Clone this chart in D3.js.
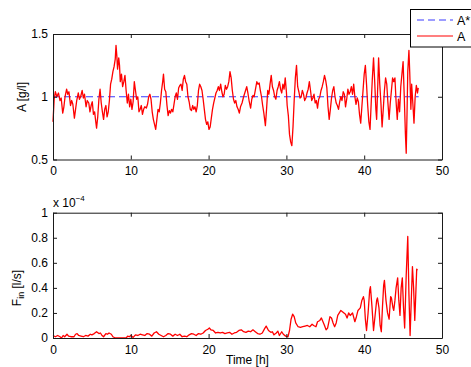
<!DOCTYPE html>
<html>
<head>
<meta charset="utf-8">
<script src="https://cdn.jsdelivr.net/npm/d3@7"></script>
<style>
  body { margin: 0; background: #fff; }
  svg { display: block; font-family: 'Liberation Sans', Arial, Helvetica, sans-serif; }
  .axis path, .axis line { stroke: #1a1a1a; }
  .axis text { fill: #000; font-size: 12px; }
</style>
</head>
<body>
<svg width="471" height="367"></svg>
<script>
// time axis ticks (hours)
const xTicks = [0, 10, 20, 30, 40, 50];
const aTicks = [0.5, 1, 1.5];
const fTicks = [0, 0.2, 0.4, 0.6, 0.8, 1];

// setpoint A* (g/l)
const setTime = [0, 47];
const setValue = [1, 1];

// measured concentration A (g/l)
const aTime = [
  0, 0.15, 0.3, 0.5, 0.7, 0.9, 1.05, 1.25, 1.4, 1.55, 1.75, 1.9, 2.05, 2.25, 2.4, 2.55, 2.75, 2.9,
  3.05, 3.25, 3.4, 3.55, 3.75, 3.9, 4.05, 4.25, 4.4, 4.6, 4.75, 4.9, 5.05, 5.2, 5.35, 5.5, 5.6, 5.75,
  5.9, 6.05, 6.2, 6.35, 6.5, 6.65, 6.8, 6.95, 7.1, 7.25, 7.4, 7.55, 7.7, 7.85, 8.0, 8.1, 8.2, 8.3,
  8.45, 8.55, 8.65, 8.8, 8.95, 9.1, 9.25, 9.4, 9.55, 9.7, 9.85, 10.0, 10.15, 10.3, 10.45, 10.6, 10.75,
  10.9, 11.05, 11.2, 11.35, 11.5, 11.65, 11.8, 12.0, 12.15, 12.3, 12.45, 12.6, 12.75, 12.9, 13.05,
  13.2, 13.35, 13.5, 13.65, 13.8, 13.95, 14.1, 14.2, 14.35, 14.5, 14.65, 14.8, 14.95, 15.1, 15.25,
  15.4, 15.55, 15.7, 15.85, 16.0, 16.15, 16.3, 16.45, 16.6, 16.75, 16.9, 17.05, 17.2, 17.35, 17.5,
  17.65, 17.8, 17.95, 18.1, 18.25, 18.4, 18.55, 18.7, 18.85, 19.0, 19.15, 19.3, 19.45, 19.6, 19.75,
  19.9, 20.05, 20.2, 20.35, 20.5, 20.65, 20.8, 20.95, 21.1, 21.25, 21.4, 21.55, 21.7, 21.85, 22.0,
  22.15, 22.3, 22.45, 22.6, 22.75, 22.9, 23.05, 23.2, 23.35, 23.5, 23.65, 23.8, 23.95, 24.1, 24.3,
  24.5, 24.7, 24.9, 25.05, 25.2, 25.4, 25.55, 25.7, 25.85, 26.0, 26.2, 26.35, 26.5, 26.65, 26.8,
  26.95, 27.1, 27.3, 27.45, 27.6, 27.75, 27.9, 28.05, 28.2, 28.35, 28.5, 28.65, 28.8, 28.95, 29.1,
  29.25, 29.4, 29.55, 29.7, 29.85, 30.0, 30.1, 30.25, 30.4, 30.55, 30.7, 30.85, 31.0, 31.15, 31.3,
  31.45, 31.6, 31.75, 31.9, 32.05, 32.2, 32.35, 32.5, 32.65, 32.8, 32.95, 33.1, 33.25, 33.4, 33.55,
  33.7, 33.85, 34.0, 34.15, 34.3, 34.45, 34.6, 34.75, 34.9, 35.05, 35.2, 35.35, 35.5, 35.65, 35.8,
  35.95, 36.1, 36.25, 36.4, 36.55, 36.7, 36.85, 37.0, 37.15, 37.3, 37.45, 37.6, 37.75, 37.9, 38.05,
  38.2, 38.35, 38.5, 38.65, 38.8, 38.95, 39.1, 39.25, 39.4, 39.55, 39.7, 39.85, 40.0, 40.15, 40.3,
  40.45, 40.6, 40.75, 40.9, 41.05, 41.2, 41.35, 41.5, 41.6, 41.75, 41.85, 42.0, 42.15, 42.3, 42.45,
  42.6, 42.75, 42.9, 43.05, 43.2, 43.35, 43.5, 43.65, 43.8, 43.95, 44.1, 44.25, 44.4, 44.55, 44.7,
  44.85, 45.0, 45.15, 45.3, 45.4, 45.5, 45.6, 45.75, 45.85, 46.0, 46.1, 46.25, 46.4, 46.55, 46.7,
  46.85, 46.95
];
const aValue = [
  0.80, 0.98, 1.04, 1.0, 1.03, 0.97, 0.99, 0.87, 0.92, 1.0, 1.06, 1.02, 1.04, 0.93, 0.97, 0.94, 0.83, 0.9,
  0.97, 1.03, 0.98, 1.0, 1.05, 0.99, 1.02, 0.92, 0.97, 0.95, 0.88, 0.93, 0.96, 0.86, 0.88, 0.80, 0.75, 0.84,
  0.98, 1.06, 0.95, 0.88, 0.82, 0.9, 0.93, 0.84, 0.88, 0.97, 1.1, 1.14, 1.2, 1.24, 1.3, 1.41, 1.33, 1.22,
  1.31, 1.25, 1.12, 1.18, 1.08, 1.12, 1.17, 1.05, 0.95, 1.02, 0.92, 0.98, 0.9, 0.96, 1.12, 1.05, 0.98,
  1.0, 0.88, 0.90, 0.93, 0.86, 0.9, 0.92, 0.91, 0.94, 1.0, 1.02, 0.98, 0.88, 0.82, 0.78,
  0.74, 0.82, 0.9, 0.88, 0.95, 1.05, 1.12, 1.18, 1.06, 1.04, 0.93, 0.85, 0.89, 0.87, 0.9,
  0.88, 0.94, 1.0, 1.03, 0.98, 1.07, 1.09, 1.1, 1.05, 1.14, 1.17, 1.12, 1.1, 1.0, 0.96,
  0.9, 0.89, 0.93, 0.9, 0.92, 0.88, 0.93, 1.05, 1.1, 1.08, 1.05, 0.98, 0.9, 0.82, 0.78,
  0.8, 0.74, 0.76, 0.83, 0.9, 0.95, 0.99, 1.03, 1.05, 1.08, 1.05, 1.1, 1.04, 1.0, 1.02,
  1.09, 1.06, 1.08, 1.12, 1.2, 1.15, 1.05, 0.98, 0.95, 0.97, 0.92, 0.9, 0.87, 0.92, 0.95,
  1.0, 1.04, 1.08, 1.03, 0.97, 0.91, 0.98, 1.01, 1.0, 1.05, 1.12, 1.1, 1.11, 1.05, 1.0,
  0.93, 0.87, 0.77, 0.9, 1.05, 1.02, 1.1, 1.17, 1.08, 1.05, 1.0, 0.98, 1.05, 1.08, 1.12,
  1.06, 1.03, 1.1, 1.06, 1.15, 1.04, 0.93, 0.85, 0.7, 0.64, 0.61, 0.76, 0.97, 1.15, 1.25,
  1.08, 1.04, 0.99, 1.0, 1.05, 1.02, 0.97, 0.99, 1.03, 1.06, 1.12, 1.05, 0.97, 0.99, 1.02,
  0.95, 0.97, 0.91, 0.98, 1.0, 1.05, 1.08, 1.12, 1.17, 1.13, 1.07, 0.92, 0.82, 0.9, 0.99,
  1.05, 1.08, 1.0, 0.95, 0.93, 0.9, 0.96, 1.0, 0.97, 1.04, 1.02, 0.92, 0.98, 1.06, 1.02,
  1.04, 1.08, 1.02, 1.1, 1.0, 0.94, 0.99, 0.96, 0.86, 0.79, 0.92, 1.05, 1.18, 1.25, 1.1,
  0.93, 0.8, 0.74, 0.95, 1.15, 1.31, 1.12, 0.9, 0.82, 1.1, 1.31, 1.1, 0.95, 0.76, 0.9,
  1.05, 1.15, 1.1, 0.95, 0.82, 0.95, 1.05, 1.15, 1.12, 1.15, 0.96, 0.82, 0.98, 0.88, 1.08,
  1.18, 1.28, 1.0, 0.7, 0.55, 0.85, 1.2, 1.37, 1.2, 0.9, 1.1, 0.95, 0.79, 1.0, 1.09,
  1.03, 1.07
];

// feed rate F_in (x 1e-4 l/s)
const fTime = [
  0, 0.3, 0.6, 0.9, 1.1, 1.3, 1.5, 1.8, 2.0, 2.3, 2.7, 2.9, 3.1, 3.3, 3.6, 3.9, 4.2, 4.5, 4.8, 5.0,
  5.3, 5.6, 5.9, 6.1, 6.3, 6.5, 6.8, 7.0, 7.2, 7.5, 7.7, 8.0, 8.5, 9.0, 9.4, 9.6, 9.8, 10.0, 10.3,
  10.6, 10.9, 11.2, 11.5, 11.8, 12.1, 12.4, 12.7, 13.0, 13.3, 13.6, 13.9, 14.2, 14.5, 14.8, 15.1,
  15.4, 15.7, 16.0, 16.3, 16.6, 16.9, 17.2, 17.5, 17.8, 18.1, 18.4, 18.7, 19.0, 19.3, 19.6, 19.9,
  20.1, 20.3, 20.6, 20.9, 21.2, 21.5, 21.8, 22.1, 22.4, 22.7, 23.0, 23.3, 23.6, 23.9, 24.2, 24.5,
  24.8, 25.1, 25.4, 25.7, 26.0, 26.3, 26.6, 26.9, 27.2, 27.4, 27.7, 28.0, 28.2, 28.4, 28.7, 28.9,
  29.1, 29.4, 29.6, 29.9, 30.2, 30.4, 30.6, 30.8, 31.0, 31.2, 31.5, 31.8, 32.1, 32.4, 32.7, 33.0,
  33.3, 33.5, 33.8, 34.0, 34.3, 34.5, 34.7, 34.9, 35.1, 35.3, 35.6, 35.8, 36.0, 36.2, 36.4, 36.6,
  36.8, 37.0, 37.2, 37.4, 37.6, 37.8, 38.0, 38.2, 38.5, 38.8, 39.0, 39.2, 39.5, 39.7, 39.9, 40.0,
  40.15, 40.3, 40.5, 40.7, 40.8, 41.0, 41.2, 41.4, 41.6, 41.7, 41.9, 42.05, 42.2, 42.35, 42.5, 42.6,
  42.8, 43.0, 43.2, 43.4, 43.5, 43.7, 43.8, 43.95, 44.1, 44.3, 44.45, 44.6, 44.75, 44.9, 45.05,
  45.2, 45.4, 45.6, 45.75, 45.9, 46.05, 46.2, 46.35, 46.5, 46.6, 46.75, 46.85
];
const fValue = [
  0.02, 0.01, 0.02, 0.01, 0.0, 0.02, 0.01, 0.03, 0.015, 0.01, 0.01, 0.03, 0.035, 0.02, 0.015, 0.01, 0.02, 0.015, 0.03, 0.025,
  0.035, 0.05, 0.035, 0.04, 0.02, 0.01, 0.035, 0.03, 0.04, 0.03, 0.01, 0.0, 0.0, 0.0, 0.0, 0.015, 0.01, 0.02, 0.005,
  0.025, 0.02, 0.03, 0.025, 0.02, 0.035, 0.03, 0.015, 0.04, 0.05, 0.03, 0.02, 0.01, 0.02, 0.035, 0.03,
  0.015, 0.03, 0.02, 0.03, 0.01, 0.015, 0.01, 0.025, 0.035, 0.03, 0.02, 0.035, 0.03, 0.04, 0.06, 0.07,
  0.08, 0.065, 0.06, 0.04, 0.045, 0.04, 0.045, 0.035, 0.04, 0.045, 0.03, 0.04, 0.045, 0.06, 0.065, 0.05,
  0.045, 0.055, 0.05, 0.065, 0.05, 0.035, 0.03, 0.04, 0.075, 0.095, 0.06, 0.045, 0.05, 0.025, 0.04, 0.055,
  0.02, 0.05, 0.03, 0.015, 0.01, 0.06, 0.15, 0.19, 0.17, 0.12, 0.09, 0.085, 0.09, 0.095, 0.1, 0.09,
  0.11, 0.1, 0.09, 0.13, 0.14, 0.16, 0.13, 0.1, 0.065, 0.08, 0.17, 0.16, 0.12, 0.09, 0.12, 0.18,
  0.2, 0.22, 0.21, 0.2, 0.19, 0.16, 0.2, 0.18, 0.2, 0.13, 0.17, 0.22, 0.24, 0.3, 0.33, 0.3,
  0.15, 0.06, 0.2, 0.38, 0.41, 0.25, 0.06, 0.18, 0.3, 0.32, 0.24, 0.1, 0.05, 0.25, 0.42, 0.46,
  0.3, 0.2, 0.15, 0.33, 0.32, 0.24, 0.22, 0.3, 0.4, 0.48, 0.3, 0.18, 0.4, 0.48, 0.25,
  0.08, 0.5, 0.81, 0.35, 0.02, 0.3, 0.57, 0.4, 0.14, 0.3, 0.55, 0.54
];

const svg = d3.select('svg');

const left = 53, right = 442;
const x = d3.scaleLinear().domain([0, 50]).range([left, right]);
const yA = d3.scaleLinear().domain([0.5, 1.5]).range([159.5, 34]);
const yF = d3.scaleLinear().domain([0, 1]).range([338, 212.7]);
const fmt = d3.format('~g');

// draws a matlab-like boxed axes with inward ticks on all four sides
function drawBox(y, yTicks, top, bottom) {
  const g = svg.append('g');
  g.append('g').attr('class', 'axis')
    .attr('transform', `translate(0,${bottom})`)
    .call(d3.axisBottom(x).tickValues(xTicks).tickSizeInner(-4).tickSizeOuter(0).tickPadding(7).tickFormat(fmt));
  g.append('g').attr('class', 'axis')
    .attr('transform', `translate(0,${top})`)
    .call(d3.axisTop(x).tickValues(xTicks).tickSizeInner(-4).tickSizeOuter(0).tickFormat(''));
  g.append('g').attr('class', 'axis')
    .attr('transform', `translate(${left},0)`)
    .call(d3.axisLeft(y).tickValues(yTicks).tickSizeInner(-4).tickSizeOuter(0).tickPadding(5).tickFormat(fmt));
  g.append('g').attr('class', 'axis')
    .attr('transform', `translate(${right},0)`)
    .call(d3.axisRight(y).tickValues(yTicks).tickSizeInner(-4).tickSizeOuter(0).tickFormat(''));
  g.selectAll('.axis text').attr('font-family', null);
  return g;
}

// ---- top panel ----
const lineSet = d3.line().x((d, i) => x(setTime[i])).y(d => yA(d));
svg.append('path')
  .datum(setValue)
  .attr('d', lineSet)
  .attr('fill', 'none')
  .attr('stroke', '#3a3aff')
  .attr('stroke-width', 1.1)
  .attr('stroke-dasharray', '7,4');

const lineA = d3.line().x((d, i) => x(aTime[i])).y(d => yA(d));
svg.append('path')
  .datum(aValue)
  .attr('d', lineA)
  .attr('fill', 'none')
  .attr('stroke', '#ff0000')
  .attr('stroke-width', 1.3)
  .attr('stroke-linejoin', 'round');

drawBox(yA, aTicks, 34, 159.5);

svg.append('text')
  .attr('transform', 'translate(26,97) rotate(-90)')
  .attr('text-anchor', 'middle')
  .attr('font-size', 12)
  .text('A [g/l]');

// ---- bottom panel ----
const lineF = d3.line().x((d, i) => x(fTime[i])).y(d => yF(d));
svg.append('path')
  .datum(fValue)
  .attr('d', lineF)
  .attr('fill', 'none')
  .attr('stroke', '#ff0000')
  .attr('stroke-width', 1.3)
  .attr('stroke-linejoin', 'round');

drawBox(yF, fTicks, 212.7, 338);

const fLabel = svg.append('text')
  .attr('transform', 'translate(21,288) rotate(-90)')
  .attr('text-anchor', 'middle')
  .attr('font-size', 12);
fLabel.append('tspan').text('F');
fLabel.append('tspan').attr('font-size', 9).attr('dy', 3).text('in');
fLabel.append('tspan').attr('dy', -3).text(' [l/s]');

const expo = svg.append('text')
  .attr('x', 53).attr('y', 207)
  .attr('font-size', 12);
expo.append('tspan').text('x 10');
expo.append('tspan').attr('font-size', 8).attr('dy', -6).text('\u22124');

svg.append('text')
  .attr('x', (left + right) / 2).attr('y', 364)
  .attr('text-anchor', 'middle')
  .attr('font-size', 12)
  .text('Time [h]');

// ---- legend ----
const legend = svg.append('g');
legend.append('rect')
  .attr('x', 410.5).attr('y', 9.5)
  .attr('width', 80).attr('height', 37.5)
  .attr('fill', '#fff').attr('stroke', '#000');
const legendItems = [
  { label: 'A*', color: '#3a3aff', dash: '7,4', y: 20 },
  { label: 'A', color: '#ff0000', dash: null, y: 36 }
];
legendItems.forEach(it => {
  legend.append('line')
    .attr('x1', 417).attr('x2', 453)
    .attr('y1', it.y).attr('y2', it.y)
    .attr('stroke', it.color)
    .attr('stroke-width', 1.2)
    .attr('stroke-dasharray', it.dash);
  legend.append('text')
    .attr('x', 457).attr('y', it.y + 4.5)
    .attr('font-size', 12.5)
    .text(it.label);
});
</script>
</body>
</html>
